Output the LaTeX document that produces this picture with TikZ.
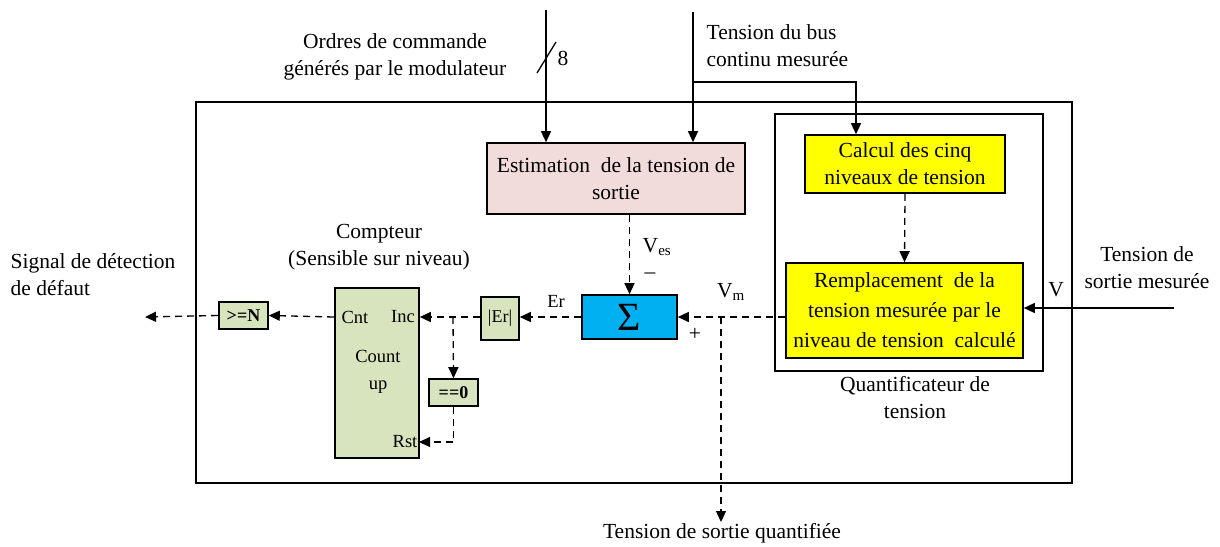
\documentclass[tikz,border=0pt]{standalone}
\usepackage{fontspec}
\setmainfont{Liberation Serif}
\usetikzlibrary{arrows.meta}
\definecolor{pinkfill}{RGB}{242,220,219}
\definecolor{greenfill}{RGB}{215,228,189}
\definecolor{yellowfill}{RGB}{255,255,0}
\definecolor{bluefill}{RGB}{0,176,240}

\begin{document}
\begin{tikzpicture}[x=1pt,y=-1pt,line width=1.3pt,
    font=\fontsize{21.5}{27}\selectfont,
    box/.style={draw, line width=1.6pt, inner sep=0pt, align=center},
    greenbox/.style={box, fill=greenfill, font=\fontsize{18}{20}\selectfont\bfseries},
    sig/.style={-{Triangle[length=11pt,width=10pt]}},
    dsig/.style={sig, dash pattern=on 7pt off 5pt},
    lbl/.style={align=center, inner sep=0pt},
    smalllbl/.style={lbl, font=\fontsize{18.5}{27}\selectfont}]
    \useasboundingbox (0,0) rectangle (1220,546);

    % Draw the frames
    \draw[line width=1.6pt] (196,102) rectangle (1072,483);
    \draw[line width=1.6pt] (775,114) rectangle (1043,371);

    % Draw the blocks
    \node[box, fill=pinkfill, minimum width=258pt, minimum height=71pt] (est) at (616,178.5) {Estimation\ \ de la tension de\\sortie};
    \node[box, fill=yellowfill, minimum width=200pt, minimum height=58pt] (calc) at (905,164) {Calcul des cinq\\niveaux de tension};
    \node[box, fill=yellowfill, minimum width=237pt, minimum height=95pt] (rempl) at (904.5,310.5) {Remplacement\ \ de la\\[3pt]tension mesurée par le\\[3pt]niveau de tension\ \ calculé};
    \node[box, fill=bluefill, minimum width=95pt, minimum height=44pt, font=\fontsize{40}{40}\selectfont] (sigma) at (629.5,317) {Σ};
    \node[box, fill=greenfill, minimum width=84pt, minimum height=170pt] (cnt) at (377,373) {};
    \node[greenbox, minimum width=49pt, minimum height=27pt] (geN) at (243.5,315.5) {>=N};
    \node[greenbox, minimum width=38pt, minimum height=43pt, font=\fontsize{18}{20}\selectfont] (absEr) at (500,318.5) {|Er|};
    \node[greenbox, minimum width=49pt, minimum height=27pt] (eqz) at (453.5,392.5) {==0};

    % Counter labels
    \node[smalllbl] (cntin) at (355,317) {Cnt};
    \node[smalllbl] (incin) at (403,317) {Inc};
    \node[smalllbl] (cntup) at (378,372) {Count\\up};
    \node[smalllbl] (rstin) at (405,442) {Rst};

    % Points on the signal lines
    \coordinate (cmd) at (546,10);
    \coordinate (bus) at (693,12);
    \coordinate (busj) at (693,82);
    \coordinate (busk) at (856,82);
    \coordinate (vin) at (1174,308);
    \coordinate (vm) at (721,317);
    \coordinate (out) at (721,522);
    \coordinate (jn) at (453,317);
    \coordinate (rst) at (419,442);
    \coordinate (defout) at (145,317);

    % Inputs
    \draw[sig] (cmd) -- (cmd |- est.north);
    \draw[line width=1.3pt] (537,73) -- (556,42);
    \node[lbl] (nbits) at (563,58) {8};
    \draw[sig] (bus) -- (bus |- est.north);
    \draw[sig] (busj) -- (busk) -- (busk |- calc.north);
    \draw[sig] (vin) -- (rempl.east |- vin);

    % Dashed signals
    \draw[dsig] (calc.south) -- (rempl.north);
    \draw[dsig] (rempl.west |- vm) -- (sigma.east);
    \draw[dsig] (vm) -- (out);
    \draw[dsig] (sigma.north |- est.south) -- (sigma.north);
    \draw[dsig] (sigma.west) -- (absEr.east |- sigma.west);
    \draw[dsig] (absEr.west |- jn) -- (cnt.east |- jn);
    \draw[dsig] (jn) -- (eqz.north);
    \draw[dsig] (eqz.south) |- (rst);
    \draw[dsig] (cnt.west |- jn) -- (geN.east);
    \draw[dsig] (geN.west) -- (defout);

    % Texts
    \node[lbl] (ordres) at (395,57) {Ordres de commande\\générés par le modulateur};
    \node[lbl, align=left, anchor=west] (vbus) at (706,46) {Tension du bus\\continu mesurée};
    \node[lbl, align=left, anchor=west] (defaut) at (10,275) {Signal de détection\\de défaut};
    \node[lbl] (vmes) at (1147,268) {Tension de\\sortie mesurée};
    \node[lbl] (compteur) at (379,247) {Compteur\\(Sensible sur niveau)};
    \node[lbl] (quant) at (915,398) {Quantificateur de\\tension};
    \node[lbl] (vquant) at (722,533) {Tension de sortie quantifiée};
    \node[lbl] (ves) at (657,247) {V\textsubscript{es}};
    \node[lbl] (moins) at (650,276) {–};
    \node[lbl] (vmlbl) at (731,292) {V\textsubscript{m}};
    \node[lbl] (plus) at (695,334) {+};
    \node[lbl] (vlbl) at (1056,290) {V};
    \node[smalllbl] (er) at (556,301) {Er};
\end{tikzpicture}
\end{document}
